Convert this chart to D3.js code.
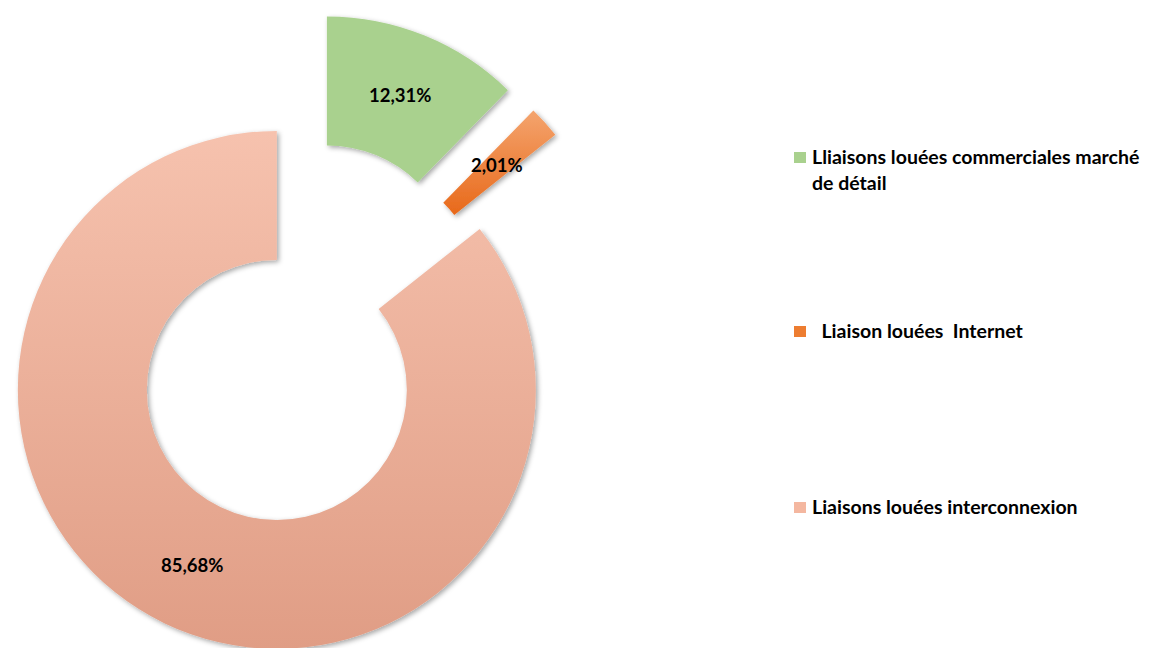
<!DOCTYPE html>
<html>
<head>
<meta charset="utf-8">
<script src="https://cdn.jsdelivr.net/npm/d3@7"></script>
<style>
  body { margin: 0; background: #fff; }
  text { font-family: Lato, "Open Sans", sans-serif; font-weight: bold; fill: #000; }
</style>
</head>
<body>
<svg id="chart" width="1151" height="648"></svg>
<script>
var width = 1151;
var height = 648;

// data
var categories = ["Lliaisons louées commerciales marché de détail", "Liaison louées  Internet", "Liaisons louées interconnexion"];
var values = [12.31, 2.01, 85.68];
var sliceLabels = ["12,31%", "2,01%", "85,68%"];
var legendLines = [["Lliaisons louées commerciales marché", "de détail"], ["  Liaison louées  Internet"], ["Liaisons louées interconnexion"]];

var cx = 299, cy = 344;
var outerR = 259, innerR = 130;
var explode = [74, 72, 51];

var svg = d3.select("#chart");
var defs = svg.append("defs");

var shadow = defs.append("filter").attr("id", "shadow")
  .attr("x", "-20%").attr("y", "-20%").attr("width", "140%").attr("height", "140%");
shadow.append("feDropShadow")
  .attr("dx", 2).attr("dy", 2).attr("stdDeviation", 2.5)
  .attr("flood-color", "#000").attr("flood-opacity", 0.35);

var gPink = defs.append("linearGradient").attr("id", "gradPink")
  .attr("x1", 0).attr("y1", 0).attr("x2", 0).attr("y2", 1);
gPink.append("stop").attr("offset", "0%").attr("stop-color", "#f6c2ae");
gPink.append("stop").attr("offset", "100%").attr("stop-color", "#e09d85");

var gOrange = defs.append("linearGradient").attr("id", "gradOrange")
  .attr("x1", 0).attr("y1", 0).attr("x2", 0).attr("y2", 1);
gOrange.append("stop").attr("offset", "0%").attr("stop-color", "#f4a46e");
gOrange.append("stop").attr("offset", "100%").attr("stop-color", "#e8691a");

var fills = ["#a9d18e", "url(#gradOrange)", "url(#gradPink)"];
var swatch = ["#a9d18e", "#ed7d31", "#f4b7a0"];

var pie = d3.pie().sort(null).value(function(d) { return d; });
var arc = d3.arc().innerRadius(innerR).outerRadius(outerR);
var arcs = pie(values);

var slices = svg.append("g")
  .attr("transform", "translate(" + cx + "," + cy + ")");

var slice = slices.selectAll("g.slice")
  .data(arcs)
  .enter()
  .append("g")
  .attr("class", "slice")
  .attr("transform", function(d, i) {
    var a = (d.startAngle + d.endAngle) / 2;
    return "translate(" + (explode[i] * Math.sin(a)) + "," + (-explode[i] * Math.cos(a)) + ")";
  });

slice.append("path")
  .attr("d", arc)
  .attr("fill", function(d, i) { return fills[i]; })
  .attr("filter", "url(#shadow)");

slice.append("text")
  .attr("transform", function(d) { return "translate(" + arc.centroid(d) + ")"; })
  .attr("text-anchor", "middle")
  .attr("dy", "0.35em")
  .style("font-size", "18.5px")
  .text(function(d, i) { return sliceLabels[i]; });

// legend
var legendY = [157, 331, 507];
var legend = svg.append("g").attr("transform", "translate(794,0)");

var item = legend.selectAll("g.item")
  .data(categories)
  .enter()
  .append("g")
  .attr("class", "item")
  .attr("transform", function(d, i) { return "translate(0," + legendY[i] + ")"; });

item.append("rect")
  .attr("x", 0).attr("y", -5)
  .attr("width", 12).attr("height", 11)
  .attr("fill", function(d, i) { return swatch[i]; });

item.each(function(d, i) {
  var t = d3.select(this).append("text")
    .attr("x", 18)
    .style("font-size", "19.5px")
    .style("white-space", "pre");
  legendLines[i].forEach(function(line, j) {
    t.append("tspan").attr("x", 18).attr("dy", j === 0 ? "0.35em" : 26).text(line);
  });
});
</script>
</body>
</html>
